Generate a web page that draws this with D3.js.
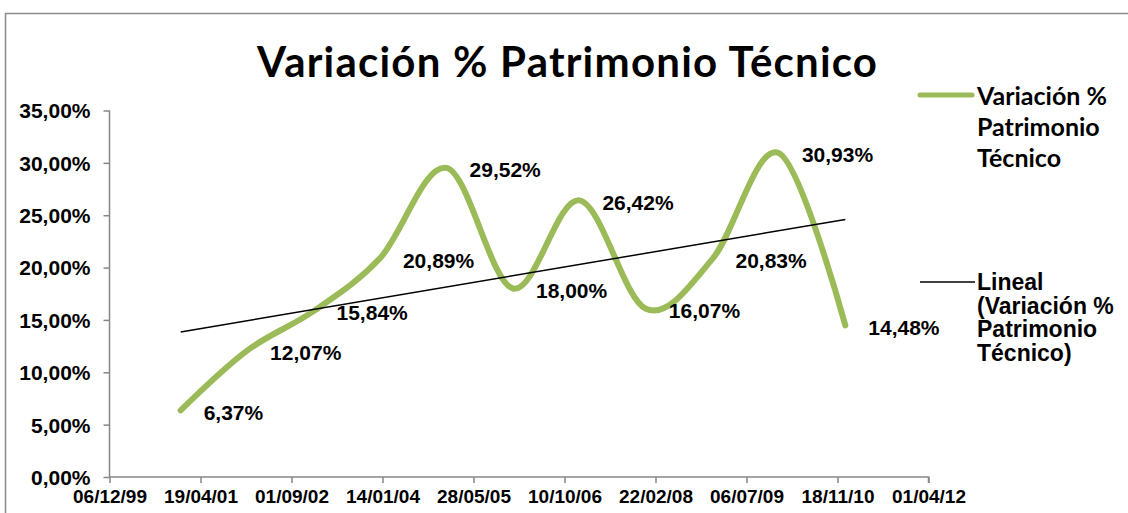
<!DOCTYPE html>
<html>
<head>
<meta charset="utf-8">
<script src="https://cdn.jsdelivr.net/npm/d3@7/dist/d3.min.js"></script>
<style>
	body { margin: 0; background: #fff; }
	svg text { font-family: "Liberation Sans", Arial, sans-serif; font-weight: bold; fill: #000; }
	svg .calibri { font-family: Lato, "Open Sans", sans-serif; }
</style>
</head>
<body>
<svg width="1128" height="513"></svg>
<script>
const title = "Variación % Patrimonio Técnico";
const periods = ["31/12/00", "31/12/01", "31/12/02", "31/12/03", "31/12/04", "31/12/05",
	"31/12/06", "31/12/07", "31/12/08", "31/12/09", "31/12/10"];
const variacion = [6.37, 12.07, 15.84, 20.89, 29.52, 18.00, 26.42, 16.07, 20.83, 30.93, 14.48];
const xTickLabels = ["06/12/99", "19/04/01", "01/09/02", "14/01/04", "28/05/05",
	"10/10/06", "22/02/08", "06/07/09", "18/11/10", "01/04/12"];
const yTicks = [0, 5, 10, 15, 20, 25, 30, 35];
const seriesLegend = ["Variación %", "Patrimonio", "Técnico"];
const trendLegend = ["Lineal", "(Variación %", "Patrimonio", "Técnico)"];

const GREEN = "#9bbb59";
const AXIS = "#868686";

const parseDate = d3.timeParse("%d/%m/%y");
const locale = d3.formatLocale({ decimal: ",", thousands: ".", grouping: [3], currency: ["", ""] });
const pct = (v) => locale.format(".2f")(v) + "%";

const svg = d3.select("svg");

// chart frame
svg.append("rect")
	.attr("x", 5.5).attr("y", 13.5)
	.attr("width", 1200).attr("height", 600)
	.attr("fill", "none")
	.attr("stroke", "#8c8c8c")
	.attr("stroke-width", 1.5);

const tickDates = xTickLabels.map(parseDate);
const x = d3.scaleTime()
	.domain([tickDates[0], tickDates[tickDates.length - 1]])
	.range([109.5, 928.5]);
const y = d3.scaleLinear()
	.domain([0, 35])
	.range([477, 110.5]);

// y axis
const yAxis = svg.append("g")
	.attr("transform", "translate(109.5,0)")
	.call(d3.axisLeft(y).tickValues(yTicks).tickSize(6).tickPadding(13).tickFormat(pct));
yAxis.selectAll("path, line").attr("stroke", AXIS).attr("stroke-width", 1.5);
yAxis.select(".domain").attr("d", "M0," + y(35) + "V" + y(0));
yAxis.selectAll("text").style("font-size", "21px").attr("dy", "0.35em");

// x axis
const xAxis = svg.append("g")
	.attr("transform", "translate(0,477)")
	.call(d3.axisBottom(x).tickValues(tickDates).tickSize(6).tickPadding(7)
		.tickFormat((d, i) => xTickLabels[i]));
xAxis.selectAll("path, line").attr("stroke", AXIS).attr("stroke-width", 1.5);
xAxis.select(".domain").attr("d", "M" + x.range()[0] + ",0H" + x.range()[1] + "V6");
xAxis.selectAll("text").style("font-size", "19px");

const points = periods.map((p, i) => ({ date: parseDate(p), value: variacion[i] }));

// smoothed series line
const line = d3.line()
	.x(d => x(d.date))
	.y(d => y(d.value))
	.curve(d3.curveCatmullRom.alpha(0));

svg.append("path")
	.datum(points)
	.attr("d", line)
	.attr("fill", "none")
	.attr("stroke", GREEN)
	.attr("stroke-width", 6)
	.attr("stroke-linecap", "round")
	.attr("stroke-linejoin", "round");

// linear trend (least squares on dates)
const xs = points.map(d => +d.date);
const mx = d3.mean(xs), my = d3.mean(variacion);
const slope = d3.sum(xs, (v, i) => (v - mx) * (variacion[i] - my)) / d3.sum(xs, v => (v - mx) * (v - mx));
const trend = [points[0].date, points[points.length - 1].date]
	.map(d => ({ date: d, value: my + slope * (+d - mx) }));

svg.append("path")
	.datum(trend)
	.attr("d", d3.line().x(d => x(d.date)).y(d => y(d.value)))
	.attr("fill", "none")
	.attr("stroke", "#000")
	.attr("stroke-width", 1.5);

// data labels
svg.append("g")
	.selectAll("text")
	.data(points)
	.enter().append("text")
	.attr("x", d => x(d.date) + 23)
	.attr("y", d => y(d.value) + 2)
	.attr("dy", "0.35em")
	.style("font-size", "21px")
	.text(d => pct(d.value));

// title
svg.append("text")
	.attr("class", "calibri")
	.attr("x", 567)
	.attr("y", 77)
	.attr("text-anchor", "middle")
	.attr("textLength", 620)
	.attr("lengthAdjust", "spacing")
	.style("font-size", "42px")
	.text(title);

// legend
svg.append("line")
	.attr("x1", 920).attr("x2", 972)
	.attr("y1", 95).attr("y2", 95)
	.attr("stroke", GREEN)
	.attr("stroke-width", 5)
	.attr("stroke-linecap", "round");
svg.append("g")
	.selectAll("text")
	.data(seriesLegend)
	.enter().append("text")
	.attr("class", "calibri")
	.attr("x", 977)
	.attr("y", (d, i) => 105 + i * 31)
	.style("font-size", "25px")
	.text(d => d);

svg.append("line")
	.attr("x1", 920).attr("x2", 975)
	.attr("y1", 282).attr("y2", 282)
	.attr("stroke", "#000")
	.attr("stroke-width", 1.5);
svg.append("g")
	.selectAll("text")
	.data(trendLegend)
	.enter().append("text")
	.attr("x", 977)
	.attr("y", (d, i) => 290 + i * 23.5)
	.style("font-size", "23px")
	.text(d => d);
</script>
</body>
</html>
